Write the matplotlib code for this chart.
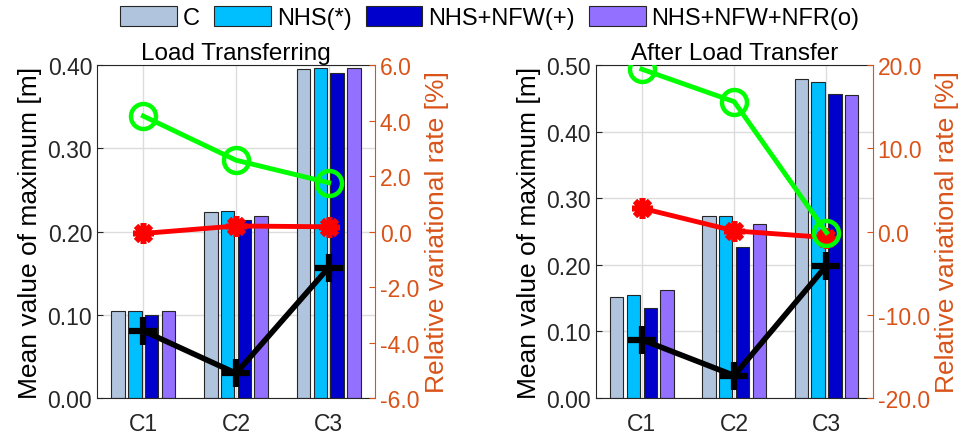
import matplotlib
matplotlib.use("Agg")
import matplotlib.pyplot as plt
import numpy as np
from matplotlib.ticker import FormatStrFormatter

plt.rcParams['font.family'] = ['Liberation Sans', 'DejaVu Sans']

categories = ["C1", "C2", "C3"]
series_names = ["C", "NHS(*)", "NHS+NFW(+)", "NHS+NFW+NFR(o)"]
bar_colors = ["#b0c4de", "#00bfff", "#0000cd", "#9370ff"]

# panel 1: Load Transferring
titles = ["Load Transferring", "After Load Transfer"]
bars_lt = [[0.104, 0.224, 0.395],
           [0.104, 0.225, 0.396],
           [0.100, 0.214, 0.390],
           [0.105, 0.219, 0.397]]
rate_nhs_lt = [-0.07, 0.20, 0.17]
rate_nfw_lt = [-3.58, -5.11, -1.30]
rate_nfr_lt = [4.16, 2.57, 1.76]

# panel 2: After Load Transfer
bars_alt = [[0.151, 0.274, 0.479],
            [0.155, 0.274, 0.475],
            [0.135, 0.226, 0.456],
            [0.162, 0.261, 0.455]]
rate_nhs_alt = [2.8, 0.08, -0.72]
rate_nfw_alt = [-13.0, -17.3, -4.1]
rate_nfr_alt = [19.5, 15.6, -0.12]

ORANGE = "#d95319"
DARK = "#262626"


def draw_panel(rect, title, bars, r_nhs, r_nfw, r_nfr, ylim, rlim, rticks):
    ax = fig.add_axes(rect)
    x = np.arange(1, len(categories) + 1)
    offsets = [-0.272, -0.091, 0.091, 0.272]
    handles = []
    for vals, off, col in zip(bars, offsets, bar_colors):
        h = ax.bar(x + off, vals, width=0.145, color=col, edgecolor=DARK,
                   linewidth=0.8, zorder=2)
        handles.append(h)
    ax.set_xlim(0.5, 3.5)
    ax.set_ylim(*ylim)
    ax.set_yticks(np.arange(ylim[0], ylim[1] + 1e-9, 0.1))
    ax.yaxis.set_major_formatter(FormatStrFormatter("%.2f"))
    ax.set_xticks(x)
    ax.set_xticklabels(categories)
    ax.grid(True, color="#dcdcdc", linewidth=1.0, zorder=0)
    ax.set_axisbelow(True)
    ax.tick_params(direction="in", labelsize=16.5, colors=DARK, length=4)
    ax.tick_params(axis="x", length=0, pad=10)
    ax.set_ylabel("Mean value of maximum [m]", fontsize=19, color="black")
    ax.set_title(title, fontsize=17.5, color="black", pad=4)
    for s in ["left", "top", "bottom"]:
        ax.spines[s].set_color(DARK)
    ax.spines["right"].set_visible(False)

    ax2 = ax.twinx()
    ax2.set_ylim(*rlim)
    ax2.set_yticks(rticks)
    ax2.yaxis.set_major_formatter(FormatStrFormatter("%.1f"))
    ax2.plot(x, r_nhs, color="red", linewidth=3.5, marker=(8, 2, 0),
             markersize=15, markeredgewidth=4, zorder=3)
    ax2.plot(x, r_nfw, color="black", linewidth=4, marker="+",
             markersize=20, markeredgewidth=4.5, zorder=3)
    ax2.plot(x, r_nfr, color="#00ff00", linewidth=3.5, marker="o",
             markersize=18, markerfacecolor="none", markeredgewidth=3.2,
             zorder=4)
    ax2.tick_params(direction="in", labelsize=16.5, colors=ORANGE, length=4)
    ax2.spines["right"].set_color(ORANGE)
    for s in ["left", "top", "bottom"]:
        ax2.spines[s].set_visible(False)
    ax2.set_ylabel("Relative variational rate [%]", fontsize=19, color=ORANGE)
    return handles


fig = plt.figure(figsize=(9.76, 4.39), dpi=100)

handles = draw_panel([0.0994, 0.0911, 0.2848, 0.7585], titles[0], bars_lt,
                     rate_nhs_lt, rate_nfw_lt, rate_nfr_lt,
                     (0, 0.4), (-6, 6), np.arange(-6, 6.1, 2))
draw_panel([0.6103, 0.0911, 0.2838, 0.7585], titles[1], bars_alt,
           rate_nhs_alt, rate_nfw_alt, rate_nfr_alt,
           (0, 0.5), (-20, 20), np.arange(-20, 20.1, 10))

fig.legend(handles, series_names, loc="center", bbox_to_anchor=(0.502, 0.958),
           ncol=4, frameon=False, fontsize=17, handlelength=2.4,
           handleheight=0.95, handletextpad=0.25, columnspacing=0.6,
           borderpad=0.1)

fig.savefig("out.png", dpi=100)
